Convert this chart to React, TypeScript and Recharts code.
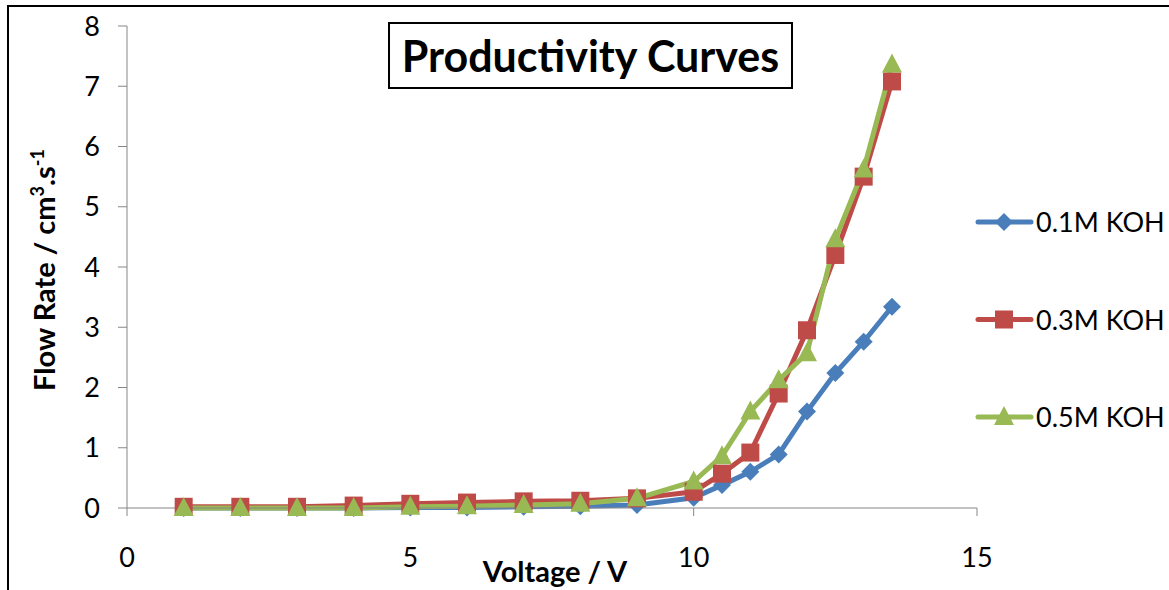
import { LineChart, Line, XAxis, YAxis } from 'recharts'

// voltage steps (V)
const voltage = [1, 2, 3, 4, 5, 6, 7, 8, 9, 10, 10.5, 11, 11.5, 12, 12.5, 13, 13.5]

// flow rate (cm3/s) per electrolyte concentration
const koh01 = [0, 0, 0, 0, 0.01, 0.01, 0.02, 0.03, 0.05, 0.17, 0.38, 0.6, 0.89, 1.6, 2.24, 2.76, 3.34]
const koh03 = [0.02, 0.02, 0.02, 0.04, 0.07, 0.09, 0.11, 0.12, 0.16, 0.27, 0.57, 0.92, 1.9, 2.95, 4.2, 5.5, 7.08]
const koh05 = [0, 0, 0, 0, 0.02, 0.03, 0.05, 0.07, 0.16, 0.44, 0.86, 1.6, 2.12, 2.57, 4.46, 5.62, 7.36]

const xTicks = [0, 5, 10, 15]
const yTicks = [0, 1, 2, 3, 4, 5, 6, 7, 8]

const series = [
  { key: 'a', name: '0.1M KOH', color: '#4a7ebb', shape: 'diamond' },
  { key: 'b', name: '0.3M KOH', color: '#be4b48', shape: 'square' },
  { key: 'c', name: '0.5M KOH', color: '#98b954', shape: 'triangle' },
]

const data = voltage.map((v, i) => ({ v, a: koh01[i], b: koh03[i], c: koh05[i] }))

const FONT = 'Lato, "Open Sans", sans-serif'

function marker(shape: string, color: string, cx: number, cy: number) {
  if (shape === 'diamond') {
    const r = 9
    return <polygon points={`${cx},${cy - r} ${cx + r},${cy} ${cx},${cy + r} ${cx - r},${cy}`} fill={color} />
  }
  if (shape === 'square') {
    return <rect x={cx - 9} y={cy - 9} width={18} height={18} fill={color} />
  }
  return <polygon points={`${cx},${cy - 11} ${cx + 10},${cy + 8} ${cx - 10},${cy + 8}`} fill={color} />
}

const makeDot = (shape: string, color: string) => (props: any) => {
  const { cx, cy, index } = props
  if (cx == null || cy == null) return <g key={index} />
  return <g key={index}>{marker(shape, color, cx, cy)}</g>
}

const YLabel = () => (
  <text
    transform="translate(55,270) rotate(-90)"
    textAnchor="middle"
    fontFamily={FONT}
    fontWeight="bold"
    fontSize={29}
    fill="#000"
  >
    Flow Rate / cm
    <tspan fontSize={18} dy={-11}>3</tspan>
    <tspan dy={11}>.s</tspan>
    <tspan fontSize={18} dy={-11}>-1</tspan>
  </text>
)

const XLabel = () => (
  <text x={555} y={582} textAnchor="middle" fontFamily={FONT} fontWeight="bold" fontSize={29} fill="#000">
    Voltage / V
  </text>
)

const LegendBox = () => (
  <svg width={194} height={260} style={{ position: 'absolute', left: 975, top: 200 }}>
    {series.map((s, i) => {
      const y = 22 + i * 97.5
      return (
        <g key={s.key}>
          <line x1={3} y1={y} x2={56} y2={y} stroke={s.color} strokeWidth={5} strokeLinecap="round" />
          {marker(s.shape, s.color, 29, y)}
          <text x={61} y={y + 10} fontFamily={FONT} fontSize={27} fill="#000">
            {s.name}
          </text>
        </g>
      )
    })}
  </svg>
)

export default function App() {
  return (
    <div style={{ position: 'absolute', left: 0, top: 0, width: 1169, height: 590, overflow: 'hidden', background: '#fff' }}>
      <div
        style={{
          position: 'absolute',
          left: 7,
          top: 5,
          width: 1200,
          height: 620,
          border: '2px solid #000',
          boxSizing: 'border-box',
        }}
      />
      <div style={{ position: 'absolute', left: 0, top: 0 }}>
        <LineChart width={1169} height={590} data={data} margin={{ top: 26, right: 192, bottom: 32, left: 67 }}>
          <XAxis
            dataKey="v"
            type="number"
            domain={[0, 15]}
            ticks={xTicks}
            height={50}
            stroke="#868686"
            tickSize={8}
            tickMargin={32}
            tick={{ fill: '#000', fontSize: 27, fontFamily: FONT }}
            label={<XLabel />}
          />
          <YAxis
            type="number"
            domain={[0, 8]}
            ticks={yTicks}
            width={60}
            stroke="#868686"
            tickSize={9}
            tickMargin={18}
            tick={{ fill: '#000', fontSize: 27, fontFamily: FONT }}
            label={<YLabel />}
          />
          {series.map((s) => (
            <Line
              key={s.key}
              dataKey={s.key}
              name={s.name}
              type="linear"
              stroke={s.color}
              strokeWidth={5}
              dot={makeDot(s.shape, s.color)}
              activeDot={false}
              isAnimationActive={false}
            />
          ))}
        </LineChart>
      </div>
      <LegendBox />
      <div
        style={{
          position: 'absolute',
          left: 388,
          top: 22,
          width: 405,
          height: 67,
          border: '2px solid #000',
          boxSizing: 'border-box',
          background: '#fff',
          display: 'flex',
          alignItems: 'center',
          justifyContent: 'center',
          fontFamily: FONT,
          fontWeight: 'bold',
          fontSize: 43,
          color: '#000',
        }}
      >
        Productivity Curves
      </div>
    </div>
  )
}
